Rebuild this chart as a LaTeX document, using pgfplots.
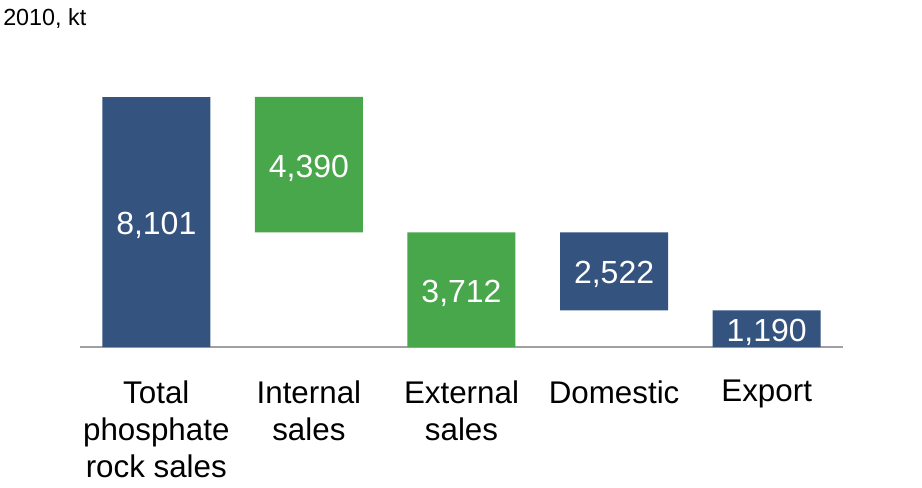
\documentclass[border=0pt]{standalone}
\usepackage{pgfplots}
\pgfplotsset{compat=1.18}
\usepackage{fontspec}
\setmainfont{Liberation Sans}
\definecolor{barblue}{HTML}{34537F}
\definecolor{bargreen}{HTML}{47A74A}
\definecolor{axisgray}{HTML}{A0A0A0}
\begin{document}
\begin{tikzpicture}
\path[use as bounding box] (0pt,0pt) rectangle (691.5pt,-365.25pt);
\node[anchor=north west, inner sep=0pt, font=\fontsize{17.5}{20}\selectfont] at (2.25pt,-6pt) {2010, kt};
\begin{axis}[
  at={(60pt,-260.25pt)}, anchor=south west,
  scale only axis, width=572.25pt, height=187.5pt,
  xmin=-0.5, xmax=4.5, ymin=0, ymax=8101,
  ybar stacked, bar width=81pt,
  axis y line=none, axis x line=bottom,
  x axis line style={-, draw=axisgray, line width=1.5pt},
  xtick={0,1,2,3,4}, xtick style={draw=none}, major tick length=0pt,
  xticklabels={{Total\\phosphate\\rock sales},{Internal\\sales},{External\\sales},{Domestic},{Export}},
  xticklabel style={align=center, anchor=north, yshift=-21.5pt, font=\fontsize{23.5}{27.75}\selectfont},
  clip=false,
]
\addplot[fill=none, draw=none, forget plot] coordinates {(0,0) (1,3712) (2,0) (3,1190) (4,0)};
\addplot[fill=barblue, draw=none] coordinates {(0,8101) (1,0) (2,0) (3,2522) (4,1190)};
\addplot[fill=bargreen, draw=none] coordinates {(0,0) (1,4390) (2,3712) (3,0) (4,0)};
\end{axis}
\begin{axis}[
  at={(60pt,-260.25pt)}, anchor=south west,
  scale only axis, width=572.25pt, height=187.5pt,
  xmin=-0.5, xmax=4.5, ymin=0, ymax=8101,
  hide axis, clip=false,
]
\addplot[draw=none, nodes near coords, point meta=explicit symbolic,
  every node near coord/.append style={anchor=center, yshift=-2.5pt, text=white, inner sep=0pt, font=\fontsize{24}{28}\selectfont}]
  coordinates {(0,4050.5) [8,101] (1,5906.5) [4,390] (2,1856) [3,712] (3,2451) [2,522] (4,595) [1,190]};
\end{axis}
\end{tikzpicture}
\end{document}
